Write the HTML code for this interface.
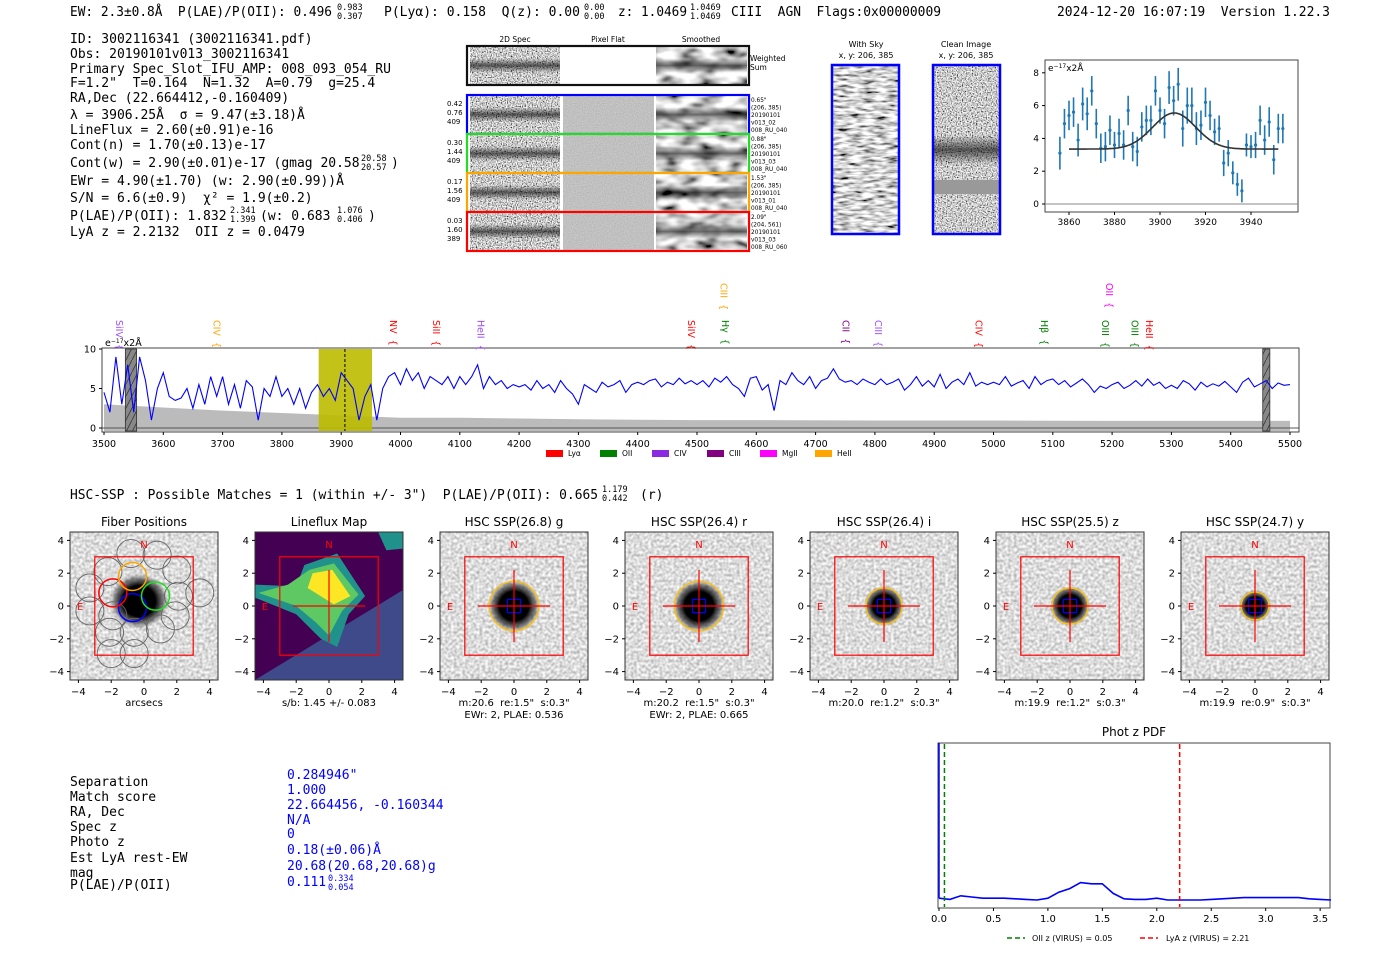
<!DOCTYPE html>
<html><head><meta charset="utf-8"><style>
html,body{margin:0;padding:0;background:#fff;}
svg{display:block;}
text{font-family:"DejaVu Sans","Liberation Sans",sans-serif;white-space:pre;}
.mono{font-family:"DejaVu Sans Mono","Liberation Mono",monospace;}
</style></head><body>
<svg id="fig" width="1400" height="953" viewBox="0 0 1400 953" xmlns="http://www.w3.org/2000/svg" xml:space="preserve">
<defs>
<filter id="f-hc" x="0" y="0" width="1" height="1"><feTurbulence type="fractalNoise" baseFrequency="0.8" numOctaves="1" seed="3"/><feColorMatrix type="matrix" values="1 0 0 0 0 1 0 0 0 0 1 0 0 0 0 0 0 0 0 1"/><feComponentTransfer><feFuncR type="linear" slope="2.4" intercept="-0.6"/><feFuncG type="linear" slope="2.4" intercept="-0.6"/><feFuncB type="linear" slope="2.4" intercept="-0.6"/></feComponentTransfer></filter>
<filter id="f-sm" x="0" y="0" width="1" height="1"><feTurbulence type="fractalNoise" baseFrequency="0.05 0.1" numOctaves="2" seed="7"/><feColorMatrix type="matrix" values="1 0 0 0 0 1 0 0 0 0 1 0 0 0 0 0 0 0 0 1"/><feComponentTransfer><feFuncR type="linear" slope="2.2" intercept="-0.45"/><feFuncG type="linear" slope="2.2" intercept="-0.45"/><feFuncB type="linear" slope="2.2" intercept="-0.45"/></feComponentTransfer></filter>
<filter id="f-lt" x="0" y="0" width="1" height="1"><feTurbulence type="fractalNoise" baseFrequency="0.35" numOctaves="1" seed="11"/><feColorMatrix type="matrix" values="1 0 0 0 0 1 0 0 0 0 1 0 0 0 0 0 0 0 0 1"/><feComponentTransfer><feFuncR type="linear" slope="1.0" intercept="0.22"/><feFuncG type="linear" slope="1.0" intercept="0.22"/><feFuncB type="linear" slope="1.0" intercept="0.22"/></feComponentTransfer></filter>
<filter id="f-fl" x="0" y="0" width="1" height="1"><feTurbulence type="fractalNoise" baseFrequency="0.9" numOctaves="1" seed="5"/><feColorMatrix type="matrix" values="1 0 0 0 0 1 0 0 0 0 1 0 0 0 0 0 0 0 0 1"/><feComponentTransfer><feFuncR type="linear" slope="0.3" intercept="0.38"/><feFuncG type="linear" slope="0.3" intercept="0.38"/><feFuncB type="linear" slope="0.3" intercept="0.38"/></feComponentTransfer></filter>
<filter id="f-sky" x="0" y="0" width="1" height="1"><feTurbulence type="fractalNoise" baseFrequency="0.08 0.35" numOctaves="2" seed="9"/><feColorMatrix type="matrix" values="1 0 0 0 0 1 0 0 0 0 1 0 0 0 0 0 0 0 0 1"/><feComponentTransfer><feFuncR type="linear" slope="2.2" intercept="-0.45"/><feFuncG type="linear" slope="2.2" intercept="-0.45"/><feFuncB type="linear" slope="2.2" intercept="-0.45"/></feComponentTransfer></filter>
<linearGradient id="band" x1="0" y1="0" x2="0" y2="1"><stop offset="0" stop-color="#000" stop-opacity="0"/><stop offset="0.5" stop-color="#000" stop-opacity="0.6"/><stop offset="1" stop-color="#000" stop-opacity="0"/></linearGradient>
<radialGradient id="blob"><stop offset="0" stop-color="#000"/><stop offset="0.55" stop-color="#000"/><stop offset="0.8" stop-color="#333" stop-opacity="0.6"/><stop offset="1" stop-color="#888" stop-opacity="0"/></radialGradient>
<pattern id="hatch" width="6" height="12" patternUnits="userSpaceOnUse"><rect width="6" height="12" fill="#888"/><path d="M0 12 L6 0" stroke="#333" stroke-width="0.8"/></pattern>
</defs>
<g id="root"></g>
</svg>
<script>
// ---------- data ----------
var specStart = 3500, specStep = 10;
var specFlux = [4.5,2,9,3,8,2,9,6,1,5, 7,4,3.5,3.8,5,2.5,5.5,3,6.5,4, 6.5,3,5.5,2.5,6,5.2,1,5,4,6.5,
 4,5,3,5,2.5,4.5,5.5,4,5,3.5, 7,6,5,1,4,5.5,1,5,6.5,7, 5.5,7.5,6,7,5,6.5,6,5.5,6.5,5,
 6.5,5.5,6.5,8,5,6.5,5.5,6,5,5.5, 5.2,5.5,4.8,6,5,5.5,4.5,6,5,4.3, 3,5.5,5,4.5,5.8,5.2,5.5,6,4.5,5.5,
 5.8,5.5,6,6.2,5.2,5.8,5.5,6.3,5.6,6, 5.5,6,5.2,6.3,5.8,6.5,5.5,5,4,6.3, 6.5,4.8,5.5,2.2,6,5.5,7,6,5.5,6.5,
 5,6,6.3,7.5,6.2,5.8,6,5.5,6.2,5.8, 5.5,6.2,5.5,5.8,6.2,4.8,5.5,6.5,5.3,6, 5.2,6.8,5,5.8,6.2,5.5,7,5.3,5.8,5.5,
 5.8,5.5,6.5,5.3,5.7,6,5,6.5,5.5,6, 6.2,5.5,6,5.2,5.7,6.2,5.5,4.5,5.3,5, 5.5,5.8,5,5.4,6,5.3,6.2,5.4,5.8,5,
 5.4,5,6,5.6,4.8,5.8,5.2,5.6,5.3,5.9, 5.2,4.5,5.8,6.3,5.2,5.6,6,5,5.7,5.4, 5.5];
var errWave = [3500,3600,3700,3800,3900,4000,4100,4200,4300,4400,4500,4600,4800,5000,5200,5500];
var errVal  = [3.0,2.6,2.2,1.9,1.6,1.3,1.3,1.2,1.1,1.05,1.0,1.0,0.95,0.95,0.9,0.9];
var specXTicks = [3500,3600,3700,3800,3900,4000,4100,4200,4300,4400,4500,4600,4700,4800,4900,5000,5100,5200,5300,5400,5500];
var specYTicks = [0,5,10];
var lineNames = ["SiIV","CIV","NV","SiII","HeII","SiIV","CIII","Hγ","CII","CIII","CIV","Hβ","OII","OIII","OIII","HeII"];
var lineWaves = [3525,3690,3987,4060,4135,4490,4545,4547,4750,4805,4975,5085,5195,5188,5238,5262];
var lineColors = ["#9b4dff","orange","red","red","#9b4dff","red","orange","green","purple","#9b4dff","red","green","magenta","green","green","red"];
var lineHigh = [0,0,0,0,0,0,1,0,0,0,0,0,1,0,0,0];
var fitWave = [3856,3858,3860,3862,3864,3866,3868,3870,3872,3874,3876,3878,3880,3882,3884,3886,3888,3890,3892,3894,3896,3898,3900,3902,3904,3906,3908,3910,3912,3914,3916,3918,3920,3922,3924,3926,3928,3930,3932,3934,3936,3938,3940,3942,3944,3946,3948,3950,3952,3954];
var fitFlux = [3.1,4.9,5.4,5.6,3.9,6.1,5.5,6.9,4.9,3.4,3.5,4.5,3.6,4.3,3.6,5.7,3.5,3.2,4.7,5.1,5.1,6.9,5.7,4.9,7.1,6.3,7.3,4.6,6.0,6.0,4.6,4.8,6.2,5.4,4.4,4.6,2.5,3.1,1.9,1.2,0.8,3.6,3.5,3.6,5.1,3.9,5.0,2.7,4.6,4.6];
var fitErr = [1,0.9,0.9,0.9,1,1,1,0.9,0.9,0.9,0.9,0.9,0.8,0.9,0.9,0.9,0.9,0.9,0.9,0.9,0.9,0.9,0.8,0.9,1,0.9,1,1.1,1.1,1.1,1,0.9,0.9,0.9,0.8,0.8,0.8,0.8,0.7,0.7,0.7,0.7,0.7,0.8,0.9,0.9,0.9,0.9,0.9,0.9];
var fitXTicks = [3860,3880,3900,3920,3940];
var fitYTicks = [0,2,4,6,8];
var gaussParams = [3906.25, 9.47, 2.2, 3.35]; // mu, sigma, amp, continuum
var pdfZ = [0,0.1,0.2,0.3,0.4,0.5,0.6,0.7,0.8,0.9,1.0,1.1,1.2,1.3,1.4,1.5,1.6,1.7,1.8,1.9,2.0,2.1,2.2,2.3,2.4,2.5,2.6,2.7,2.8,2.9,3.0,3.1,3.2,3.3,3.4,3.5,3.6];
var pdfVal = [0.04,0.03,0.06,0.05,0.04,0.04,0.04,0.035,0.03,0.025,0.04,0.09,0.12,0.17,0.16,0.16,0.08,0.035,0.03,0.03,0.04,0.025,0.025,0.025,0.025,0.03,0.035,0.04,0.045,0.045,0.045,0.045,0.045,0.045,0.035,0.03,0.025];
var pdfXTicks = [0.0,0.5,1.0,1.5,2.0,2.5,3.0,3.5];
var zOII = 0.05, zLyA = 2.21;

// ---------- helpers ----------
var NS = "http://www.w3.org/2000/svg";
var root = document.getElementById('root');
function mk(tag, attrs, parent){var e=document.createElementNS(NS,tag);for(var k in attrs)e.setAttribute(k,attrs[k]);(parent||root).appendChild(e);return e;}
function txt(x,y,s,size,opts,parent){opts=opts||{};var a={x:x,y:y,'font-size':size,fill:opts.fill||'#000'};if(opts.anchor)a['text-anchor']=opts.anchor;if(opts.cls)a['class']=opts.cls;if(opts.transform)a.transform=opts.transform;if(opts.len){a.textLength=opts.len;a.lengthAdjust='spacingAndGlyphs';}var t=mk('text',a,parent);t.textContent=s;return t;}
var el;

// ---------- header ----------
var hdr=[[70,"EW: 2.3±0.8Å  P(LAE)/P(OII): 0.496",262],[384,"P(Lyα): 0.158  Q(z): 0.00",196],[618,"z: 1.0469",69],[731,"CIII  AGN  Flags:0x00000009",210],[1057,"2024-12-20 16:07:19  Version 1.22.3",273]];
hdr.forEach(function(h){el=txt(h[0],16,h[1],13.5,{cls:'mono',len:h[2]});

});
[[337,"0.983","0.307"],[584,"0.00","0.00"],[690,"1.0469","1.0469"]].forEach(function(s){
el=txt(s[0],10,s[1],8.5,{cls:'mono'});


el=txt(s[0],19,s[2],8.5,{cls:'mono'});

});

var info=[[43,"ID: 3002116341 (3002116341.pdf)"],[58,"Obs: 20190101v013_3002116341"],[73,"Primary Spec_Slot_IFU_AMP: 008_093_054_RU"],[87,"F=1.2\"  T=0.164  N=1.32  A=0.79  g=25.4"],[102,"RA,Dec (22.664412,-0.160409)"],[119,"λ = 3906.25Å  σ = 9.47(±3.18)Å"],[134,"LineFlux = 2.60(±0.91)e-16"],[149,"Cont(n) = 1.70(±0.13)e-17"],[167,"Cont(w) = 2.90(±0.01)e-17 (gmag 20.58"],[185,"EWr = 4.90(±1.70) (w: 2.90(±0.99))Å"],[202,"S/N = 6.6(±0.9)  χ² = 1.9(±0.2)"],[220,"P(LAE)/P(OII): 1.832"],[236,"LyA z = 2.2132  OII z = 0.0479"]];
info.forEach(function(l){el=txt(70,l[0],l[1],13,{cls:'mono'});

});
txt(391,167,")",13,{cls:'mono'});
txt(260,220,"(w: 0.683",13,{cls:'mono'});
txt(368,220,")",13,{cls:'mono'});
[[361,161,"20.58",170,"20.57"],[230,213,"2.341",222,"1.399"],[337,213,"1.076",222,"0.406"]].forEach(function(s){
txt(s[0],s[1],s[2],8.5,{cls:'mono'});txt(s[0],s[3],s[4],8.5,{cls:'mono'});});

// ---------- 2D spectra ----------
var g2d=mk('g',{});


[["2D Spec",515],["Pixel Flat",608],["Smoothed",701]].forEach(function(c){txt(c[1],42,c[0],7.5,{anchor:'middle'},g2d);});
function specRow(y,h,color,lbl,rlbl,flatWhite){
  mk('rect',{x:470,y:y,width:90,height:h,filter:'url(#f-hc)'},g2d);
  mk('rect',{x:470,y:y+h*0.3,width:90,height:h*0.4,fill:'url(#band)'},g2d);
  mk('rect',{x:563,y:y,width:91,height:h,fill:flatWhite?'#fff':'#8a8a8a',filter:flatWhite?'':'url(#f-fl)'},g2d);
  mk('rect',{x:656,y:y,width:91,height:h,filter:'url(#f-sm)'},g2d);
  mk('rect',{x:656,y:y+h*0.3,width:91,height:h*0.4,fill:'url(#band)'},g2d);
  var b=mk('rect',{x:467,y:y-1,width:282,height:h+2,fill:'none',stroke:color,'stroke-width':2.2},g2d);
  
  
  lbl.forEach(function(s,i){txt(447,y+10+i*9,s,7,{},g2d);});
  rlbl.forEach(function(s,i){txt(751,y+6+i*7.5,s,5.8,{},g2d);});
}
specRow(47,37,'#111',[],[],true);
txt(750,61,"Weighted",7.5,{},g2d);txt(750,70,"Sum",7.5,{},g2d);
specRow(96,37,'blue',["0.42","0.76","409"],["0.65\"","(206, 385)","20190101","v013_02","008_RU_040"]);
specRow(135,37,'#22dd22',["0.30","1.44","409"],["0.88\"","(206, 385)","20190101","v013_03","008_RU_040"]);
specRow(174,37,'orange',["0.17","1.56","409"],["1.53\"","(206, 385)","20190101","v013_01","008_RU_040"]);
specRow(213,37,'red',["0.03","1.60","389"],["2.09\"","(204, 561)","20190101","v013_03","008_RU_060"]);

// with sky / clean image
txt(866,47,"With Sky",8,{anchor:'middle'});txt(866,58,"x, y: 206, 385",8,{anchor:'middle'});
txt(966,47,"Clean Image",8,{anchor:'middle'});txt(966,58,"x, y: 206, 385",8,{anchor:'middle'});
mk('rect',{x:832,y:65,width:67,height:169,filter:'url(#f-sky)'});
mk('rect',{x:933,y:65,width:67,height:169,filter:'url(#f-hc)'});
mk('rect',{x:933,y:135,width:67,height:30,fill:'url(#band)'});
mk('rect',{x:933,y:180,width:67,height:14,fill:'#999'});
el=mk('rect',{x:832,y:65,width:67,height:169,fill:'none',stroke:'blue','stroke-width':2.5});


el=mk('rect',{x:933,y:65,width:67,height:169,fill:'none',stroke:'blue','stroke-width':2.5});



// ---------- zoom fit ----------
function fx(w){return 1069+(w-3860)*2.275;}
function fy(v){return 204-v*16.4;}
var gf=mk('g',{});


mk('rect',{x:1045,y:60,width:253,height:152,fill:'#fff',stroke:'#444','stroke-width':1},gf);
mk('line',{x1:1045,x2:1298,y1:fy(0),y2:fy(0),stroke:'#888','stroke-width':1},gf);
fitXTicks.forEach(function(t){mk('line',{x1:fx(t),x2:fx(t),y1:212,y2:215,stroke:'#000'},gf);txt(fx(t),225,String(t),9,{anchor:'middle'},gf);});
fitYTicks.forEach(function(t){mk('line',{x1:1042,x2:1045,y1:fy(t),y2:fy(t),stroke:'#000'},gf);txt(1039,fy(t)+3,String(t),9,{anchor:'end'},gf);});
var t=txt(1048,71,"e",9,{},gf);var ts=mk('tspan',{'font-size':6,dy:-3},t);ts.textContent="−17";var ts2=mk('tspan',{dy:3},t);ts2.textContent="x2Å";
fitWave.forEach(function(w,i){
  var ln=mk('line',{x1:fx(w),x2:fx(w),y1:fy(fitFlux[i]-fitErr[i]),y2:fy(fitFlux[i]+fitErr[i]),stroke:'#1f77b4','stroke-width':1.6},gf);
  
  
  var c=mk('circle',{cx:fx(w),cy:fy(fitFlux[i]),r:1.6,fill:'#1f77b4'},gf);
  
  
});
var gd="";for(var w=3860;w<=3952;w+=0.5){var v=gaussParams[3]+gaussParams[2]*Math.exp(-0.5*Math.pow((w-gaussParams[0])/gaussParams[1],2));gd+=(gd?"L":"M")+fx(w).toFixed(1)+" "+fy(v).toFixed(1);}
el=mk('path',{d:gd,fill:'none',stroke:'#333','stroke-width':1.6},gf);



// ---------- full spectrum ----------
function sx(w){return 104+(w-3500)*0.593;}
function sy(v){return 428-v*7.9;}
var gs=mk('g',{});


mk('rect',{x:102,y:348,width:1197,height:84,fill:'#fff'},gs);
var ed="M"+sx(errWave[0])+" "+sy(-0.4);errWave.forEach(function(w,i){ed+="L"+sx(w).toFixed(1)+" "+sy(errVal[i]).toFixed(1);});ed+="L"+sx(errWave[errWave.length-1])+" "+sy(-0.4)+"Z";
el=mk('path',{d:ed,fill:'#bbb'},gs);


mk('line',{x1:102,x2:1299,y1:sy(0),y2:sy(0),stroke:'#555','stroke-width':1},gs);
el=mk('rect',{x:sx(3862),y:349,width:sx(3952)-sx(3862),height:82,fill:'#bbbb00',opacity:0.9},gs);


mk('rect',{x:sx(3536),y:349,width:sx(3555)-sx(3536),height:82,fill:'url(#hatch)',stroke:'#333','stroke-width':0.8},gs);
mk('rect',{x:sx(5454),y:349,width:sx(5466)-sx(5454),height:82,fill:'url(#hatch)',stroke:'#333','stroke-width':0.8},gs);
var sd="";specFlux.forEach(function(v,i){sd+=(i?"L":"M")+sx(specStart+i*specStep).toFixed(1)+" "+sy(v).toFixed(1);});
el=mk('path',{d:sd,fill:'none',stroke:'blue','stroke-width':1.1},gs);


mk('line',{x1:sx(3906.25),x2:sx(3906.25),y1:349,y2:431,stroke:'#000','stroke-dasharray':'3,2','stroke-width':1},gs);
mk('rect',{x:102,y:348,width:1197,height:84,fill:'none',stroke:'#444','stroke-width':1},gs);
specXTicks.forEach(function(t){mk('line',{x1:sx(t),x2:sx(t),y1:432,y2:435,stroke:'#000'},gs);txt(sx(t),447,String(t),9.5,{anchor:'middle'},gs);});
specYTicks.forEach(function(t){mk('line',{x1:99,x2:102,y1:sy(t),y2:sy(t),stroke:'#000'},gs);txt(96,sy(t)+3.5,String(t),9.5,{anchor:'end'},gs);});
t=txt(105,346,"e",9.5,{},gs);ts=mk('tspan',{'font-size':6,dy:-3},t);ts.textContent="−17";ts2=mk('tspan',{dy:3},t);ts2.textContent="x2Å";
lineNames.forEach(function(n,i){var x=sx(lineWaves[i]),y=lineHigh[i]?283:320;
  var lt=txt(x-3,y,n+"  {",9.5,{fill:lineColors[i],transform:'rotate(90 '+(x-3)+' '+y+')'},gs);
  
  });
[["Lyα","red",546],["OII","green",600],["CIV","#8a2be2",652],["CIII","purple",707],["MgII","magenta",760],["HeII","orange",815]].forEach(function(l){
  var r=mk('rect',{x:l[2],y:450,width:17,height:7,fill:l[1]},gs);
  
  
  txt(l[2]+22,456,l[0],7.5,{},gs);});

// ---------- HSC header ----------
el=txt(70,499,"HSC-SSP : Possible Matches = 1 (within +/- 3\")  P(LAE)/P(OII): 0.665",13,{cls:'mono',len:528});


txt(602,492,"1.179",8.5,{cls:'mono'});txt(602,501,"0.442",8.5,{cls:'mono'});txt(640,499,"(r)",13,{cls:'mono'});

// ---------- cutouts ----------
var cutTitles=["Fiber Positions","Lineflux Map","HSC SSP(26.8) g","HSC SSP(26.4) r","HSC SSP(26.4) i","HSC SSP(25.5) z","HSC SSP(24.7) y"];
var cutX=[70,255,440,625,810,996,1181];
var cutSub=[["arcsecs"],["s/b: 1.45 +/- 0.083"],["m:20.6  re:1.5\"  s:0.3\"","EWr: 2, PLAE: 0.536"],["m:20.2  re:1.5\"  s:0.3\"","EWr: 2, PLAE: 0.665"],["m:20.0  re:1.2\"  s:0.3\""],["m:19.9  re:1.2\"  s:0.3\""],["m:19.9  re:0.9\"  s:0.3\""]];
var apRad=[0,0,1.5,1.5,1.1,1.1,0.85];
var tickArc=[-4,-2,0,2,4];
cutX.forEach(function(x0,k){
  var g=mk('g',{});
  
  
  var cx=x0+74,cy=606,S=16.4;
  function px(a){return cx+a*S;} function py(a){return cy-a*S;}
  if(k===1){
    mk('rect',{x:x0,y:532,width:148,height:148,fill:'#440154'},g);
    mk('polygon',{points:x0+","+680+" "+(x0+148)+","+590+" "+(x0+148)+","+680},g).setAttribute('fill','#3e4a89');
    mk('polygon',{points:[px(-1.5),py(2.5),px(0.5),py(3.2),px(2.2),py(0.6),px(1.2),py(-0.5),px(0.5),py(-2.5),px(-0.5),py(-2),px(-2),py(-0.5),px(-4.5),py(0.5),px(-4.5),py(1.3),px(-2),py(1.2)].join(','),fill:'#21918c'},g);
    mk('polygon',{points:[px(-1.2),py(2.2),px(0.3),py(2.6),px(1.8),py(0.7),px(0.8),py(-0.3),px(0),py(-1.8),px(-0.8),py(-1),px(-2),py(0),px(-4.3),py(0.8),px(-2.5),py(1.3)].join(','),fill:'#5ec962'},g);
    mk('polygon',{points:[px(-1),py(2),px(0.2),py(2.2),px(1.3),py(0.6),px(0.3),py(0.1),px(-1.3),py(1.1)].join(','),fill:'#fde725'},g);
    mk('polygon',{points:[px(3),py(4.5),px(4.5),py(4.5),px(4.5),py(3.5),px(3.5),py(3.4)].join(','),fill:'#21918c'},g);
  } else {
    mk('rect',{x:x0,y:532,width:148,height:148,filter:'url(#f-lt)'},g);
    if(k===0){mk('ellipse',{cx:px(-0.3),cy:py(0.3),rx:30,ry:28,fill:'url(#blob)'},g);}
    else {var br=(apRad[k]*0.95+0.2)*S;mk('circle',{cx:cx,cy:cy,r:br,fill:'url(#blob)'},g);}
  }
  if(k===0){
    var gray=[[-1.9,-0.6],[-2.2,2.1],[-0.8,3.2],[0.8,3.1],[2.0,2.2],[2.1,0.6],[3.4,0.8],[1.9,-0.6],[-3.3,1.1],[-3.3,-0.3],[-2.1,-1.6],[-0.6,-1.6],[-2,-2.9],[-0.6,-2.9],[1,-1.4]];
    gray.forEach(function(p){mk('circle',{cx:px(p[0]),cy:py(p[1]),r:14,fill:'none',stroke:'#666','stroke-width':0.9},g);});
    [[-0.7,-0.1,'blue'],[-1.9,0.8,'red'],[-0.7,1.8,'orange'],[0.7,0.6,'#22dd22']].forEach(function(p){
      var c=mk('circle',{cx:px(p[0]),cy:py(p[1]),r:14,fill:'none',stroke:p[2],'stroke-width':1.5},g);
      
      });
  }
  if(k>=2){
    mk('circle',{cx:cx,cy:cy,r:apRad[k]*S,fill:'none',stroke:'#ffbf00','stroke-width':1.3},g);
    mk('rect',{x:px(-0.4),y:py(0.4),width:0.8*S,height:0.8*S,fill:'none',stroke:'blue','stroke-width':1.2},g);
  }
  if(k>=1){
    mk('line',{x1:px(-2.2),x2:px(2.2),y1:cy,y2:cy,stroke:'red','stroke-width':1.2},g);
    mk('line',{x1:cx,x2:cx,y1:py(2.2),y2:py(-2.2),stroke:'red','stroke-width':1.2},g);
  }
  mk('rect',{x:px(-3),y:py(3),width:6*S,height:6*S,fill:'none',stroke:'red','stroke-width':1.2},g);
  txt(cx,548,"N",10,{anchor:'middle',fill:'red'},g);
  txt(x0+10,610,"E",10,{anchor:'middle',fill:'red'},g);
  mk('rect',{x:x0,y:532,width:148,height:148,fill:'none',stroke:'#333','stroke-width':1},g);
  var ti=txt(cx,526,cutTitles[k],12,{anchor:'middle'},g);
  
  
  tickArc.forEach(function(a){
    mk('line',{x1:px(a),x2:px(a),y1:680,y2:683,stroke:'#000'},g);
    txt(px(a),695,a<0?"−"+(-a):String(a),10,{anchor:'middle'},g);
    mk('line',{x1:x0-3,x2:x0,y1:py(a),y2:py(a),stroke:'#000'},g);
    txt(x0-6,py(a)+3.5,a<0?"−"+(-a):String(a),10,{anchor:'end'},g);});
  cutSub[k].forEach(function(s,i){txt(cx,706+i*12,s,10,{anchor:'middle'},g);});
});

// ---------- match table ----------
var tabL=["Separation","Match score","RA, Dec","Spec z","Photo z","Est LyA rest-EW","mag","P(LAE)/P(OII)"];
var tabV=["0.284946\"","1.000","22.664456, -0.160344","N/A","0","0.18(±0.06)Å","20.68(20.68,20.68)g","0.111"];
var tabLY=[786,801,816,831,846,862,877,889];
var tabVY=[779,794,809,824,838,854,870,886];
tabL.forEach(function(s,i){el=txt(70,tabLY[i],s,13,{cls:'mono'});


var v=txt(287,tabVY[i],tabV[i],13,{cls:'mono',fill:'blue'});

});
txt(328,881,"0.334",8.5,{cls:'mono',fill:'blue'});txt(328,890,"0.054",8.5,{cls:'mono',fill:'blue'});

// ---------- phot z pdf ----------
function zx(z){return 939+z*108.9;}
function zy(v){return 903-v*120;}
var gp=mk('g',{});


txt(1134,736,"Phot z PDF",12,{anchor:'middle'},gp);
mk('rect',{x:938,y:743,width:392,height:165,fill:'#fff',stroke:'#444','stroke-width':1},gp);
mk('line',{x1:939,x2:939,y1:743,y2:zy(pdfVal[0]),stroke:'blue','stroke-width':1.5},gp);
var pd="";pdfZ.forEach(function(z,i){pd+=(i?"L":"M")+zx(z).toFixed(1)+" "+zy(pdfVal[i]).toFixed(1);});
el=mk('path',{d:pd,fill:'none',stroke:'blue','stroke-width':1.6},gp);


el=mk('line',{x1:zx(zOII),x2:zx(zOII),y1:744,y2:907,stroke:'green','stroke-width':1.5,'stroke-dasharray':'5,3'},gp);


el=mk('line',{x1:zx(zLyA),x2:zx(zLyA),y1:744,y2:907,stroke:'red','stroke-width':1.5,'stroke-dasharray':'5,3'},gp);


pdfXTicks.forEach(function(z){mk('line',{x1:zx(z),x2:zx(z),y1:908,y2:911,stroke:'#000'},gp);txt(zx(z),922,z.toFixed(1),10,{anchor:'middle'},gp);});
mk('line',{x1:1007,x2:1025,y1:938,y2:938,stroke:'green','stroke-width':1.5,'stroke-dasharray':'5,3'},gp);
txt(1032,941,"OII z (VIRUS) = 0.05",8,{},gp);
mk('line',{x1:1140,x2:1158,y1:938,y2:938,stroke:'red','stroke-width':1.5,'stroke-dasharray':'5,3'},gp);
txt(1166,941,"LyA z (VIRUS) = 2.21",8,{},gp);
</script>
</body></html>
